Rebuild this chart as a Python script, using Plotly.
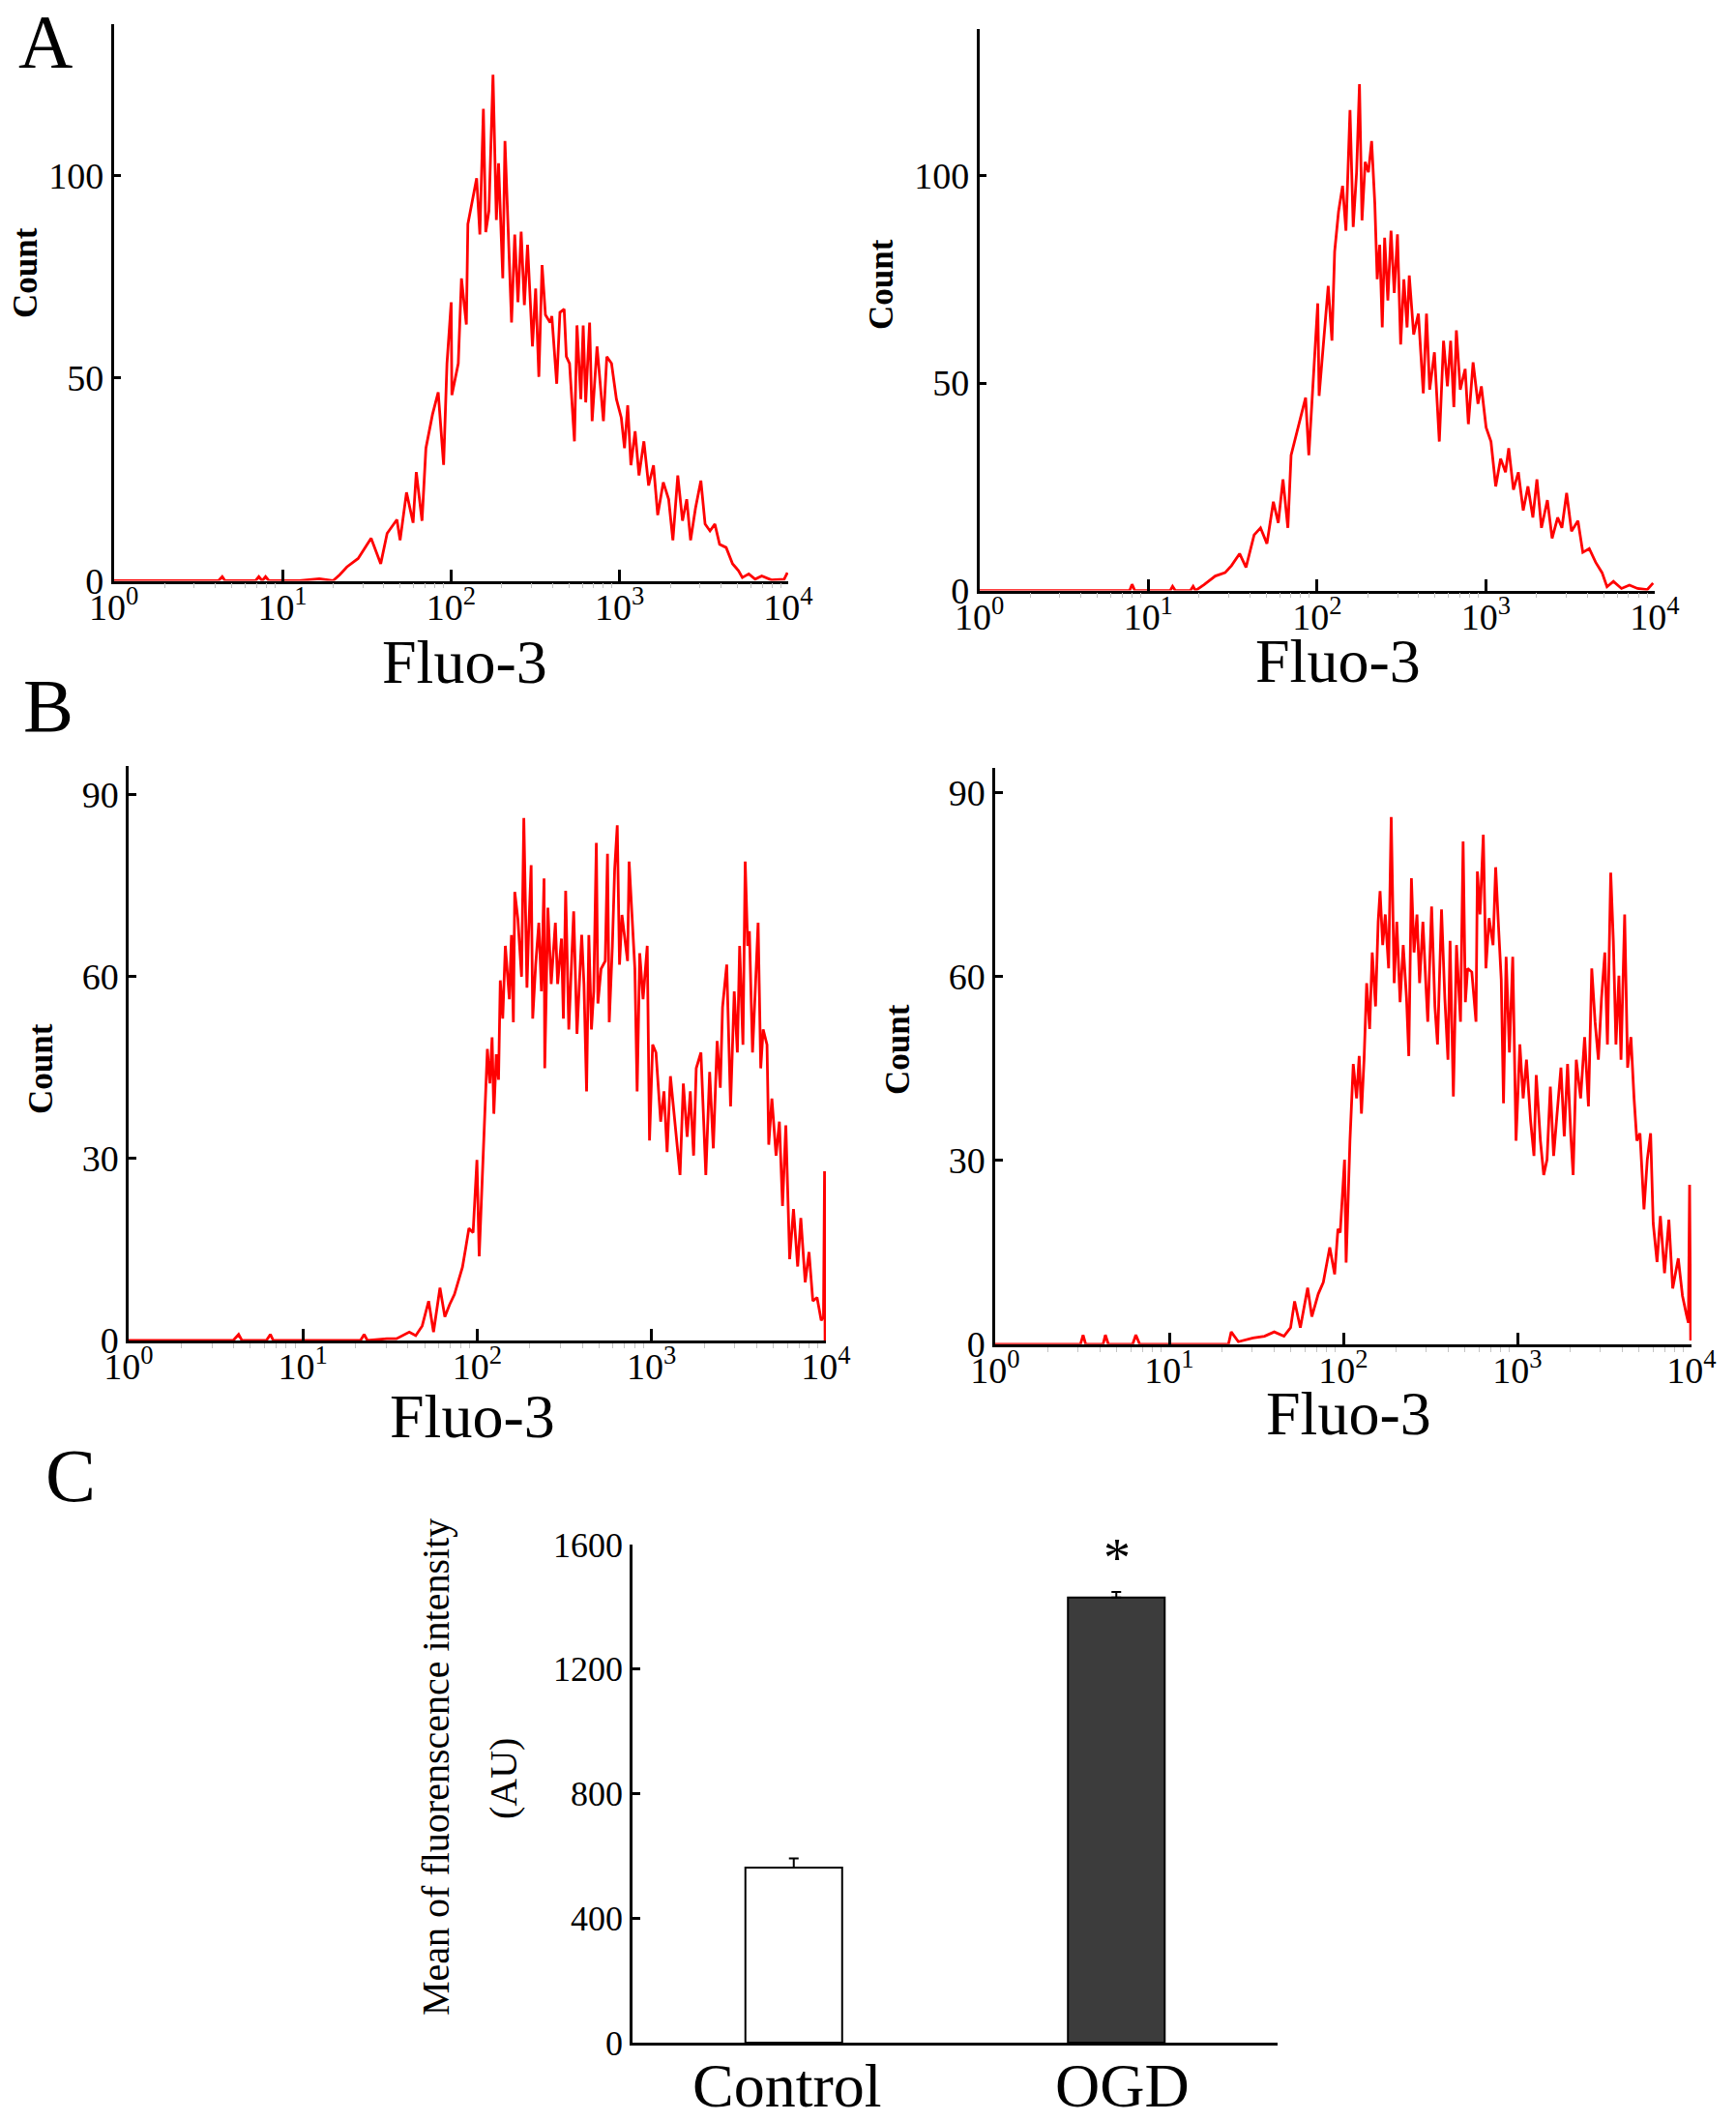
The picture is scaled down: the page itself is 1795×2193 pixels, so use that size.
import numpy as np
import plotly.graph_objects as go

W, H = 1795, 2193
OFF = 8  # the page body adds an 8px margin around the plot div
FONT = "Liberation Serif"
RED = "#ff0000"

# ---- panel A (Fluo-3 histograms), x given as log10 of intensity ----
a1_log = [0.0, 0.3, 0.62, 0.643, 0.66, 0.84, 0.86, 0.88, 0.90, 0.92, 1.0, 1.1, 1.219, 1.30, 1.34,
          1.382, 1.449, 1.526, 1.583, 1.621, 1.679, 1.698, 1.736, 1.775, 1.794, 1.828, 1.851, 1.890,
          1.924, 1.956, 1.976, 2.001, 2.005, 2.043, 2.062, 2.091, 2.100, 2.119, 2.152, 2.171, 2.192,
          2.206, 2.225, 2.249, 2.269, 2.282, 2.307, 2.320, 2.339, 2.359, 2.378, 2.397, 2.416, 2.435,
          2.454, 2.483, 2.502, 2.521, 2.540, 2.560, 2.588, 2.598, 2.627, 2.646, 2.671, 2.684, 2.703,
          2.732, 2.747, 2.770, 2.784, 2.799, 2.822, 2.837, 2.866, 2.904, 2.924, 2.952, 2.981, 3.010,
          3.029, 3.048, 3.067, 3.092, 3.115, 3.144, 3.172, 3.201, 3.226, 3.259, 3.291, 3.316, 3.345,
          3.373, 3.398, 3.421, 3.450, 3.482, 3.507, 3.536, 3.565, 3.593, 3.632, 3.670, 3.705, 3.728,
          3.766, 3.804, 3.843, 3.900, 3.976, 3.995]
a1_count = [0, 0, 0, 1, 0, 0, 1, 0, 1, 0, 0, 0, 0.5, 0, 1.5,
            3.4, 5.5, 10.5, 4.2, 11.7, 15.1, 10, 21.8, 14.3, 26.8, 14.8, 32.7, 41,
            46.5, 28.6, 53.6, 68.7, 45.8, 53.6, 74.6, 63.2, 88, 92.3, 99.3, 85.4, 116.4,
            86, 91.3, 124.8, 89, 103, 74.6, 108.5, 87.1, 63.7, 85.4, 68.7, 86.1, 68,
            82.9, 57.8, 72.1, 50.3, 77.9, 65.6, 63.7, 65.3, 48.6, 66.2, 67, 55.3, 53.6,
            34.4, 63, 44.8, 63, 44, 63.7, 39.4, 57.8, 39.4, 55.3, 53.6, 44.8, 40.2,
            32.7, 43.3, 28.5, 36.9, 26, 34.4, 23.5, 28.5, 16.2, 24.3, 20.1, 10, 26,
            14.8, 20.1, 10, 17.9, 24.7, 14, 12.3, 14, 9, 8.2, 4.2, 2.5, 0.8,
            1.7, 0.4, 1.2, 0.2, 0.4, 2]

a2_log = [0.0, 0.5, 0.89, 0.904, 0.92, 1.0, 1.13, 1.144, 1.16, 1.25, 1.266, 1.28, 1.330, 1.397,
          1.455, 1.493, 1.541, 1.579, 1.627, 1.665, 1.703, 1.741, 1.770, 1.798, 1.827, 1.846, 1.894,
          1.932, 1.951, 1.979, 2.004, 2.012, 2.046, 2.066, 2.088, 2.104, 2.127, 2.151, 2.171, 2.195,
          2.214, 2.234, 2.251, 2.266, 2.285, 2.304, 2.323, 2.342, 2.356, 2.371, 2.386, 2.400, 2.419,
          2.438, 2.457, 2.476, 2.495, 2.514, 2.533, 2.546, 2.572, 2.600, 2.629, 2.648, 2.667, 2.695,
          2.724, 2.749, 2.772, 2.791, 2.810, 2.825, 2.848, 2.877, 2.896, 2.924, 2.953, 2.973, 3.001,
          3.030, 3.058, 3.087, 3.116, 3.135, 3.163, 3.192, 3.221, 3.249, 3.278, 3.302, 3.329, 3.364,
          3.392, 3.425, 3.450, 3.478, 3.507, 3.545, 3.574, 3.612, 3.650, 3.688, 3.717, 3.755, 3.803,
          3.850, 3.898, 3.955, 3.990]
a2_count = [0, 0, 0, 1.5, 0, 0, 0, 1, 0, 0, 1, 0, 1.4, 3.5,
            4.3, 6, 8.9, 5.6, 13.4, 15.1, 11.3, 21.4, 16.3, 26.8, 15.1, 32.6, 40.1,
            46.5, 32.6, 53.4, 69.2, 46.9, 62.7, 73.4, 60.2, 81.7, 91.3, 97.5, 86.7, 115.8,
            87.6, 100.8, 122, 89.2, 103.3, 100.8, 108.3, 93.3, 75, 83.3, 63.4, 85, 69.9,
            86.7, 71.7, 85.8, 59.3, 75, 63.4, 75.9, 61.7, 66.7, 47.5, 66.7, 48.4, 57.4,
            35.9, 60.2, 49.2, 60.2, 44.2, 62.7, 48.4, 53.4, 40.1, 55, 45, 49.2, 39.3,
            35.9, 25.1, 31.8, 28.5, 34.3, 24.3, 28.5, 19.3, 25.1, 17.6, 26.8, 15.1, 21.8,
            12.6, 17.6, 15.1, 23.5, 14.3, 16.8, 9.2, 10.1, 6.8, 4.3, 0.9, 2.2, 0.5,
            1.3, 0.5, 0.2, 1.8]

# ---- panel B ----
b1_log = [0.0, 0.6, 0.631, 0.65, 0.79, 0.813, 0.83, 1.0, 1.2, 1.33, 1.351, 1.37, 1.481, 1.536,
          1.610, 1.647, 1.684, 1.721, 1.749, 1.786, 1.814, 1.841, 1.869, 1.891, 1.915, 1.934, 1.952,
          1.976, 1.998, 2.011, 2.039, 2.058, 2.072, 2.085, 2.095, 2.109, 2.122, 2.132, 2.146, 2.161,
          2.184, 2.196, 2.207, 2.215, 2.233, 2.254, 2.267, 2.285, 2.294, 2.309, 2.318, 2.335, 2.353,
          2.368, 2.383, 2.387, 2.405, 2.424, 2.448, 2.461, 2.483, 2.494, 2.507, 2.525, 2.553, 2.572,
          2.599, 2.612, 2.627, 2.640, 2.655, 2.668, 2.683, 2.692, 2.710, 2.734, 2.747, 2.757, 2.775,
          2.788, 2.803, 2.816, 2.830, 2.845, 2.862, 2.871, 2.886, 2.904, 2.917, 2.932, 2.951, 2.975,
          2.988, 3.006, 3.025, 3.052, 3.071, 3.089, 3.108, 3.135, 3.163, 3.182, 3.204, 3.222, 3.241,
          3.256, 3.283, 3.311, 3.333, 3.354, 3.376, 3.394, 3.407, 3.431, 3.453, 3.474, 3.492, 3.505,
          3.524, 3.537, 3.551, 3.561, 3.579, 3.598, 3.611, 3.626, 3.640, 3.662, 3.672, 3.690, 3.714,
          3.733, 3.751, 3.770, 3.792, 3.814, 3.838, 3.856, 3.881, 3.903, 3.925, 3.949, 3.973, 3.986,
          3.992, 3.995]
b1_count = [0, 0, 1, 0, 0, 1, 0, 0, 0, 0, 1, 0, 0.3, 0.3,
            1.4, 0.8, 2.4, 6.5, 1.4, 8.7, 3.9, 5.9, 7.6, 9.6, 12.1, 15.3, 18.5,
            17.8, 29.8, 13.9, 33, 48.1, 42.4, 50, 37.4, 47.2, 43, 59.4, 53.1, 65.1,
            56.3, 66.9, 52.5, 74, 69.5, 60, 86.2, 58.2, 66.9, 78.4, 53.1, 62, 68.9,
            57.6, 76.2, 44.9, 71.4, 58.8, 68.9, 58.8, 66.3, 53.1, 74.2, 51.3, 70.8, 50.6,
            66.9, 58.8, 41.1, 66.9, 51.3, 57.6, 82.1, 55.6, 61.3, 62.6, 80.3, 52.5, 65.1,
            77.7, 85, 62, 70.2, 66.9, 62.6, 79, 71.4, 61.3, 41.1, 63.9, 56.3, 65.1,
            33, 48.8, 47.5, 36.1, 41.1, 31.1, 43.6, 36.1, 27.3, 42.4, 33.6, 41.1, 30.5,
            44.9, 47.5, 27.3, 44.3, 31.7, 49.4, 41.7, 55, 62, 38.6, 57.6, 47.5, 65.1,
            48.8, 79, 65.1, 67.5, 47.5, 60, 68.9, 44.9, 51.3, 48.8, 32.3, 39.9, 30.5,
            36.1, 22.2, 35.5, 13.4, 21.7, 12.2, 20.2, 9.6, 14.6, 6.5, 7.1, 3.3, 3.9,
            27.9, 0]

b2_log = [0.0, 0.49, 0.505, 0.52, 0.62, 0.633, 0.65, 0.79, 0.808, 0.83,
          1.0, 1.2, 1.34, 1.356, 1.397, 1.481, 1.547, 1.603, 1.659, 1.697,
          1.720, 1.753, 1.795, 1.819, 1.856, 1.885, 1.922, 1.950, 1.969, 1.982,
          2.007, 2.016, 2.038, 2.057, 2.076, 2.091, 2.104, 2.119, 2.134, 2.151,
          2.166, 2.185, 2.200, 2.211, 2.226, 2.241, 2.260, 2.275, 2.292, 2.307,
          2.326, 2.344, 2.363, 2.376, 2.391, 2.406, 2.423, 2.438, 2.457, 2.476,
          2.485, 2.507, 2.526, 2.541, 2.564, 2.583, 2.601, 2.613, 2.632, 2.650,
          2.673, 2.688, 2.701, 2.714, 2.738, 2.762, 2.770, 2.785, 2.804, 2.819,
          2.837, 2.860, 2.875, 2.890, 2.907, 2.920, 2.935, 2.954, 2.973, 2.992,
          3.014, 3.033, 3.052, 3.076, 3.095, 3.108, 3.132, 3.151, 3.170, 3.189,
          3.208, 3.226, 3.250, 3.269, 3.288, 3.307, 3.320, 3.338, 3.363, 3.386,
          3.408, 3.427, 3.446, 3.465, 3.483, 3.502, 3.517, 3.536, 3.551, 3.566,
          3.583, 3.595, 3.616, 3.633, 3.652, 3.670, 3.686, 3.704, 3.727, 3.746,
          3.765, 3.780, 3.802, 3.821, 3.845, 3.870, 3.892, 3.924, 3.948, 3.971,
          3.982, 3.989, 3.995]
b2_count = [0, 0, 1.5, 0, 0, 1.5, 0, 0, 1.5, 0,
            0, 0, 0, 2, 0.4, 1, 1.3, 2, 1.3, 2.7,
            7, 2.7, 9.2, 4.5, 8.2, 10.1, 15.8, 11.4, 18.8, 18.2,
            30.1, 13.3, 33.2, 45.7, 40.1, 47, 37.6, 46.4, 58.9, 51.4,
            63.9, 55.1, 68.9, 73.9, 65.1, 70.1, 61.3, 86, 58.9, 68.9,
            55.8, 65.1, 56.4, 47, 76, 63.9, 70.1, 58.9, 68.9, 57.6,
            52.6, 71.4, 55.1, 48.9, 70.9, 56.4, 46.4, 65.8, 40.4, 65.1,
            52.6, 82, 55.8, 61.3, 60.7, 52.6, 77.1, 70.1, 83.1, 61.3,
            69.5, 65.1, 77.8, 68.9, 59.5, 39.3, 63.2, 47.6, 63.2, 33.2,
            48.9, 40.1, 46.4, 36.3, 30.7, 43.9, 33.2, 27.6, 30.1, 42,
            30.7, 37, 45.1, 33.9, 45.7, 33.9, 27.6, 46.4, 40.1, 50.1,
            38.8, 61.3, 52.6, 46.4, 56.4, 63.9, 48.9, 76.9, 65.8, 48.9,
            60.1, 46.4, 70.1, 45.1, 50.1, 40.1, 33.2, 34.4, 22, 30.1,
            34.4, 19.7, 13.4, 20.9, 11.6, 20.3, 9.1, 14, 7.9, 4.8,
            3.5, 26, 0.6]

# ---- panel C (bar chart) ----
groups = ["Control", "OGD"]
mean_fi = [562, 1430]
sem_fi = [30, 18]
bar_colors = ["white", "#3c3c3c"]

dec_vals = [1, 10, 100, 1000, 10000]
dec_text = ["10<sup>0</sup>", "10<sup>1</sup>", "10<sup>2</sup>", "10<sup>3</sup>", "10<sup>4</sup>"]
minor_vals = [m * 10 ** d for d in range(4) for m in range(2, 10)]


def px(x, y):
    return (x - OFF) / W, 1 - (y - OFF) / H


def dom_x(x0, x1):
    return [(x0 - OFF) / W, (x1 - OFF) / W]


def dom_y(ytop, ybot):
    return [1 - (ybot - OFF) / H, 1 - (ytop - OFF) / H]


def hist_xaxis(dom, anchor):
    return dict(domain=dom, anchor=anchor, type="log", range=[0, 4], automargin=False,
                tickvals=dec_vals, ticktext=dec_text, ticks="inside", ticklen=12,
                tickwidth=2.5, tickcolor="black", showline=True, linecolor="black",
                linewidth=2.5, showgrid=False, zeroline=False, ticklabelstandoff=-8,
                tickfont=dict(family=FONT, size=38, color="black"),
                minor=dict(tickvals=minor_vals, ticks="outside", ticklen=5,
                           tickcolor="#c4c4c4", tickwidth=1, showgrid=False))


def hist_yaxis(dom, anchor, ymax, tv):
    return dict(domain=dom, anchor=anchor, range=[0, ymax], tickvals=tv, automargin=False,
                ticks="inside", ticklen=8, tickwidth=2.5, tickcolor="black",
                showline=True, linecolor="black", linewidth=2.5, showgrid=False,
                zeroline=False, tickfont=dict(family=FONT, size=38, color="black"))


fig = go.Figure()

panels = [(a1_log, a1_count, "x", "y"), (a2_log, a2_count, "x2", "y2"),
          (b1_log, b1_count, "x3", "y3"), (b2_log, b2_count, "x4", "y4")]
for lg, cnt, xa, ya in panels:
    fig.add_trace(go.Scatter(x=np.power(10.0, lg), y=cnt, mode="lines",
                             line=dict(color=RED, width=2.8), xaxis=xa, yaxis=ya,
                             hoverinfo="skip"))

fig.add_trace(go.Bar(x=groups, y=mean_fi, width=0.3, xaxis="x5", yaxis="y5",
                     marker=dict(color=bar_colors, line=dict(color="black", width=2)),
                     error_y=dict(type="data", array=sem_fi, arrayminus=[0, 0],
                                  symmetric=False, color="black", thickness=2, width=5)))

fig.update_layout(
    template="none",
    width=W, height=H, margin=dict(l=0, r=0, t=0, b=0, pad=0, autoexpand=False),
    paper_bgcolor="white", plot_bgcolor="white", showlegend=False,
    font=dict(family=FONT, color="black"),
    xaxis=hist_xaxis(dom_x(117.7, 815), "y"),
    yaxis=hist_yaxis(dom_y(25, 600.5), "x", 137.3, [0, 50, 100]),
    xaxis2=hist_xaxis(dom_x(1012.7, 1711), "y2"),
    yaxis2=hist_yaxis(dom_y(30, 610.6), "x2", 135.3, [0, 50, 100]),
    xaxis3=hist_xaxis(dom_x(133, 854), "y3"),
    yaxis3=hist_yaxis(dom_y(791.8, 1386), "x3", 94.8, [0, 30, 60, 90]),
    xaxis4=hist_xaxis(dom_x(1029, 1749), "y4"),
    yaxis4=hist_yaxis(dom_y(794, 1389.8), "x4", 94, [0, 30, 60, 90]),
    xaxis5=dict(domain=dom_x(654, 1321), anchor="y5", range=[-0.5, 1.5], showline=True,
                linecolor="black", linewidth=2.5, ticks="", showgrid=False, automargin=False,
                showticklabels=False),
    yaxis5=dict(domain=dom_y(1597, 2112), anchor="x5", range=[0, 1600], automargin=False,
                tickvals=[0, 400, 800, 1200, 1600], ticks="inside", ticklen=8,
                tickwidth=2.5, tickcolor="black", showline=True, linecolor="black",
                linewidth=2.5, showgrid=False, zeroline=False,
                tickfont=dict(family=FONT, size=36, color="black")),
)


def note(text, x, y, size, angle=0, bold=False):
    ax, ay = px(x, y)
    if bold:
        text = "<b>" + text + "</b>"
    fig.add_annotation(text=text, x=ax, y=ay, xref="paper", yref="paper",
                       xanchor="center", yanchor="middle", showarrow=False,
                       textangle=angle, font=dict(family=FONT, size=size, color="black"))


# axis titles
for cx, cy in [(481, 684), (1383, 683), (488, 1464), (1394, 1461)]:
    note("Fluo-3", cx, cy, 64)
for cx, cy in [(26, 282), (912, 294), (42, 1105), (928, 1085)]:
    note("Count", cx, cy, 35, angle=-90, bold=True)
note("Mean of fluorenscence intensity", 450, 1827, 40, angle=-90)
note("(AU)", 520, 1839, 40, angle=-90)

# category labels of panel C
for name, cx in zip(groups, [814, 1160]):
    note(name, cx, 2156, 64)

# panel letters and significance mark
note("A", 47, 42, 78)
note("B", 50, 729, 78)
note("C", 73, 1525, 78)
note("*", 1155, 1611, 56)

fig.write_html("out.html")
